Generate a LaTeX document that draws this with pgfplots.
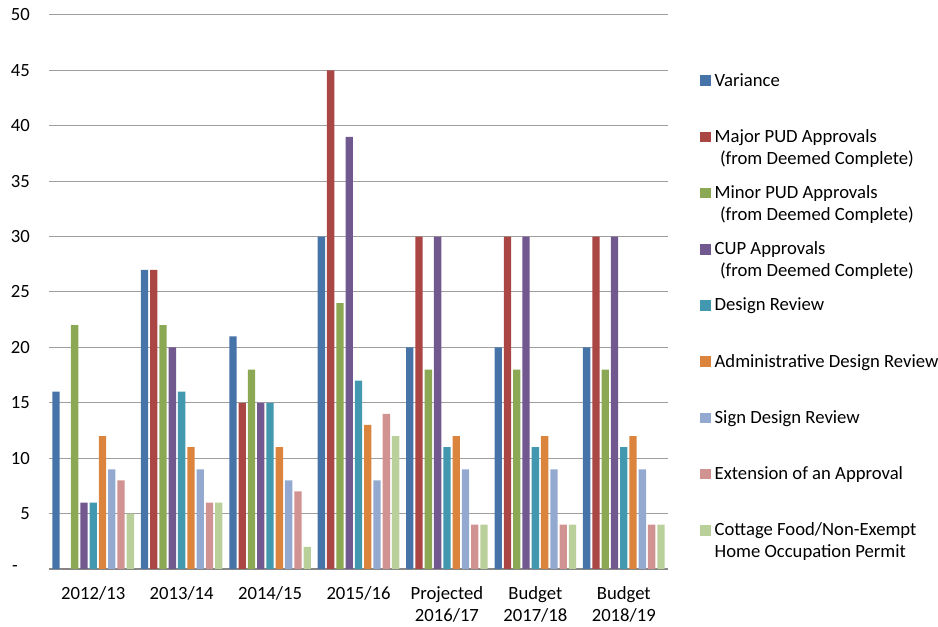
\documentclass[border=0pt]{standalone}
\usepackage{fontspec}
\setmainfont{Carlito}
\usepackage{pgfplots}
\pgfplotsset{compat=1.18}
\definecolor{c1}{HTML}{4673A8}
\definecolor{c2}{HTML}{AA4644}
\definecolor{c3}{HTML}{8BA854}
\definecolor{c4}{HTML}{71588F}
\definecolor{c5}{HTML}{4198AF}
\definecolor{c6}{HTML}{DB843D}
\definecolor{c7}{HTML}{93A9CF}
\definecolor{c8}{HTML}{D19392}
\definecolor{c9}{HTML}{BAD09A}
\newcommand{\lentry}[2]{\vtop{\hbox{\strut #1}#2}}
\begin{document}
\fontsize{14}{16.5}\selectfont
\begin{tikzpicture}
\begin{axis}[
  scale only axis,
  width=464.25pt, height=415.5pt,
  at={(0,0)}, anchor=south west,
  xmin=-0.5, xmax=6.5,
  ymin=0, ymax=50,
  axis x line*=bottom, axis y line*=left,
  x axis line style={draw=black!47, line width=1.5pt},
  y axis line style={draw=none},
  major tick length=0pt,
  ytick={0,5,...,50},
  yticklabels={\raisebox{-2pt}{-}\kern 9pt,5,10,15,20,25,30,35,40,45,50},
  yticklabel style={anchor=east, inner sep=0pt, xshift=-14.25pt},
  xtick={0,...,6},
  xticklabels={2012/13,2013/14,2014/15,2015/16,Projected\\2016/17,Budget\\2017/18,Budget\\2018/19},
  xticklabel style={anchor=north, inner sep=0pt, yshift=-13pt, align=center},
  ymajorgrids,
  grid style={draw=black!38, line width=0.75pt},
  legend style={draw=none, fill=none, at={(1,1)}, anchor=north west,
    xshift=24pt, yshift=-41.7pt, inner sep=0pt, outer sep=0pt,
    row sep=28.5pt, column sep=3pt,
    cells={anchor=base west, text height=11.55pt, text depth=0pt},
    nodes={inner sep=0pt}},
  legend image code/.code={\fill[#1] (0pt,0pt) rectangle (8pt,8pt);},
  every axis plot/.append style={ybar, draw=none, bar width=0.083},
]
\addplot[fill=c1, bar shift=-0.42] coordinates {(0,16) (1,27) (2,21) (3,30) (4,20) (5,20) (6,20)};
\addlegendentry{\lentry{Variance}{}}
\addplot[fill=c2, bar shift=-0.315] coordinates {(0,0) (1,27) (2,15) (3,45) (4,30) (5,30) (6,30)};
\addlegendentry{\lentry{Major PUD Approvals}{\hbox{\strut\hspace{4pt}(from Deemed Complete)}}}
\addplot[fill=c3, bar shift=-0.21] coordinates {(0,22) (1,22) (2,18) (3,24) (4,18) (5,18) (6,18)};
\addlegendentry{\lentry{Minor PUD Approvals}{\hbox{\strut\hspace{4pt}(from Deemed Complete)}}}
\addplot[fill=c4, bar shift=-0.105] coordinates {(0,6) (1,20) (2,15) (3,39) (4,30) (5,30) (6,30)};
\addlegendentry{\lentry{CUP Approvals}{\hbox{\strut\hspace{4pt}(from Deemed Complete)}}}
\addplot[fill=c5, bar shift=0] coordinates {(0,6) (1,16) (2,15) (3,17) (4,11) (5,11) (6,11)};
\addlegendentry{\lentry{Design Review}{}}
\addplot[fill=c6, bar shift=0.105] coordinates {(0,12) (1,11) (2,11) (3,13) (4,12) (5,12) (6,12)};
\addlegendentry{\lentry{Administrative Design Review}{}}
\addplot[fill=c7, bar shift=0.21] coordinates {(0,9) (1,9) (2,8) (3,8) (4,9) (5,9) (6,9)};
\addlegendentry{\lentry{Sign Design Review}{}}
\addplot[fill=c8, bar shift=0.315] coordinates {(0,8) (1,6) (2,7) (3,14) (4,4) (5,4) (6,4)};
\addlegendentry{\lentry{Extension of an Approval}{}}
\addplot[fill=c9, bar shift=0.42] coordinates {(0,5) (1,6) (2,2) (3,12) (4,4) (5,4) (6,4)};
\addlegendentry{\lentry{Cottage Food/Non-Exempt}{\hbox{\strut Home Occupation Permit}}}
\end{axis}
\pgfresetboundingbox
\path[use as bounding box] (-36.75pt,-43.5pt) rectangle (666.75pt,426.75pt);
\end{tikzpicture}
\end{document}
